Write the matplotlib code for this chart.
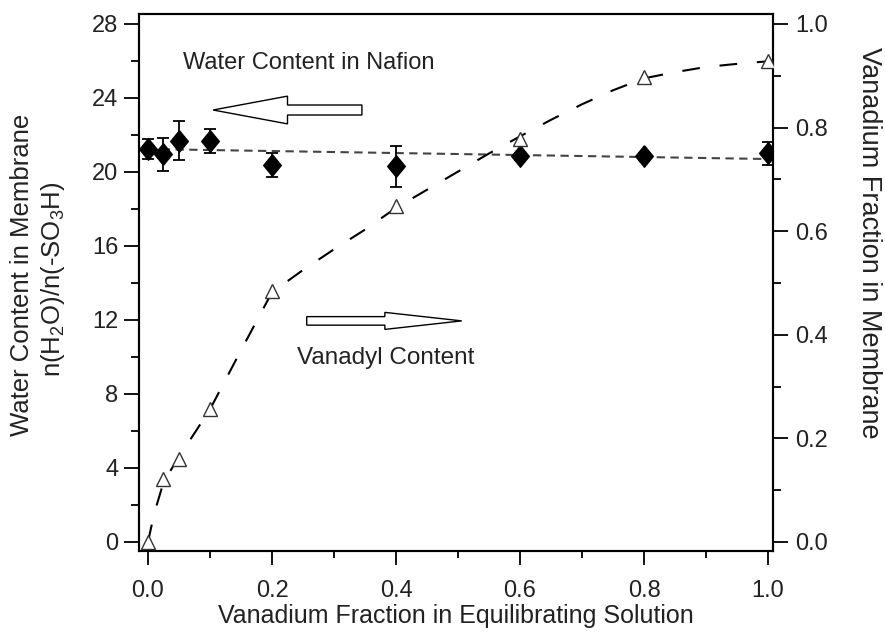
import matplotlib
matplotlib.use('Agg')
import matplotlib.pyplot as plt
from matplotlib.patches import FancyArrow
from matplotlib.ticker import MultipleLocator

plt.rcParams['font.family'] = ['Liberation Sans', 'DejaVu Sans']
plt.rcParams['mathtext.fontset'] = 'custom'
plt.rcParams['mathtext.rm'] = 'Liberation Sans'
plt.rcParams['mathtext.it'] = 'Liberation Sans'

# water content (diamonds, left axis)
x_water = [0.0, 0.025, 0.05, 0.1, 0.2, 0.4, 0.6, 0.8, 1.0]
water = [21.25, 20.95, 21.7, 21.65, 20.4, 20.3, 20.85, 20.85, 21.0]
water_err = [0.55, 0.9, 1.05, 0.65, 0.65, 1.1, 0.2, 0.2, 0.6]

# linear fit through water content
fit_x = [0.0, 1.0]
fit_water = [21.24, 20.70]

# vanadium fraction in membrane (triangles, right axis)
x_van = [0.0, 0.025, 0.05, 0.1, 0.2, 0.4, 0.6, 0.8, 1.0]
van = [0.0, 0.121, 0.160, 0.256, 0.484, 0.648, 0.778, 0.898, 0.928]

# fitted curve
curve_x = [0.0, 0.01, 0.025, 0.05, 0.075, 0.1, 0.15, 0.2, 0.25, 0.3, 0.35,
           0.4, 0.45, 0.5, 0.55, 0.6, 0.65, 0.7, 0.75, 0.8, 0.85, 0.9, 0.95, 1.0]
curve_y = [0.0, 0.055, 0.115, 0.165, 0.21, 0.256, 0.37, 0.482, 0.525, 0.565, 0.603,
           0.645, 0.68, 0.715, 0.75, 0.783, 0.815, 0.845, 0.872, 0.895, 0.907, 0.917, 0.923, 0.928]

txt = '#222222'

fig = plt.figure(figsize=(8.85, 6.32), dpi=100)
ax = fig.add_axes([139 / 885, 1 - 551 / 632, (773 - 139) / 885, (551 - 14) / 632])
ax2 = ax.twinx()

ax.set_xlim(-0.0145, 1.008)
ax.set_ylim(-0.49, 28.54)
ax2.set_ylim(-0.49 / 28, 28.54 / 28)

# water content
ax.plot(fit_x, fit_water, color='#444444', lw=1.5, dashes=(4, 2.6))
ax.errorbar(x_water, water, yerr=water_err, fmt='none', ecolor='black',
            elinewidth=1.3, capsize=4.5, capthick=1.3, zorder=3)
diamond = [(0, 1), (0.82, 0), (0, -1), (-0.82, 0), (0, 1)]
ax.plot(x_water, water, linestyle='none', marker=diamond, ms=15.5,
        color='black', zorder=4)

# vanadium
ax2.plot(curve_x, curve_y, color='black', lw=1.5, dashes=(8.5, 9.5))
ax2.plot(x_van, van, linestyle='none', marker='^', ms=9.5, mfc='white',
         mec='#333333', mew=1.0, zorder=4)

# arrows and notes
ax.add_patch(FancyArrow(0.345, 23.35, -0.24, 0, width=0.54, head_width=1.5,
                        head_length=0.12, length_includes_head=True,
                        facecolor='white', edgecolor='black', lw=1.0, zorder=5))
ax.add_patch(FancyArrow(0.256, 11.95, 0.25, 0, width=0.46, head_width=0.92,
                        head_length=0.124, length_includes_head=True,
                        facecolor='white', edgecolor='black', lw=1.0, zorder=5))
ax.text(0.056, 25.9, 'Water Content in Nafion', fontsize=17, color=txt,
        ha='left', va='center')
ax.text(0.240, 9.95, 'Vanadyl Content', fontsize=17.5, color=txt,
        ha='left', va='center')

# ticks
ax.xaxis.set_major_locator(MultipleLocator(0.2))
ax.xaxis.set_minor_locator(MultipleLocator(0.1))
ax.yaxis.set_major_locator(MultipleLocator(4))
ax.yaxis.set_minor_locator(MultipleLocator(2))
ax2.yaxis.set_major_locator(MultipleLocator(0.2))
ax2.yaxis.set_minor_locator(MultipleLocator(0.1))
ax.xaxis.set_major_formatter(lambda v, p: f'{v:.1f}')
ax2.yaxis.set_major_formatter(lambda v, p: f'{v:.1f}')

ax.tick_params(axis='x', which='major', direction='out', length=10, width=1.3,
               pad=11, labelsize=17, labelcolor=txt)
ax.tick_params(axis='x', which='minor', direction='out', length=5, width=1.3)
ax.tick_params(axis='y', which='major', direction='out', length=11, width=1.3,
               pad=4, labelsize=17, labelcolor=txt)
ax.tick_params(axis='y', which='minor', direction='out', length=6, width=1.3)
ax2.tick_params(axis='y', which='major', direction='out', length=11, width=1.3,
                pad=5, labelsize=17, labelcolor=txt)
ax2.tick_params(axis='y', which='minor', direction='out', length=6, width=1.3)

for a in (ax, ax2):
    for s in a.spines.values():
        s.set_linewidth(1.5)

ax.set_xlabel('Vanadium Fraction in Equilibrating Solution', fontsize=18,
              color=txt, labelpad=1)
fig.text(22 / 885, 1 - 275 / 632, 'Water Content in Membrane', rotation=90,
         fontsize=18.5, color=txt, ha='center', va='center')
fig.text(53 / 885, 1 - 279 / 632, r'n(H$_2$O)/n(-SO$_3$H)', rotation=90,
         fontsize=18.5, color=txt, ha='center', va='center')
fig.text(869 / 885, 1 - 243 / 632, 'Vanadium Fraction in Membrane', rotation=-90,
         fontsize=19.5, color=txt, ha='center', va='center')

fig.savefig('out.png', dpi=100)
